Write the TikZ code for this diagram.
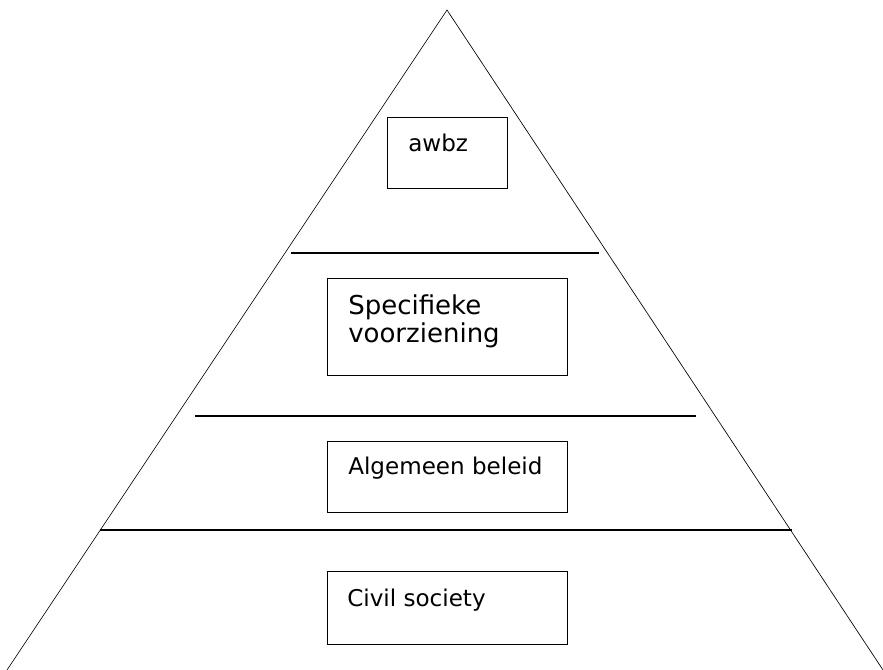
\documentclass[tikz,border=0pt]{standalone}
\usepackage{fontspec}
\setmainfont{DejaVu Sans}
\usetikzlibrary{positioning}
\tikzset{
    x=0.75pt, y=-0.75pt, % one unit is one pixel of the picture, y downwards
    side/.style={draw, line width=0.5pt}, % the two sides of the pyramid
    layer/.style={draw, line width=0.9pt}, % the lines between the layers
    box/.style={draw, line width=0.75pt, rectangle, minimum width=180pt, inner sep=0pt}, % sets the properties of each box
    label/.style={anchor=base west, inner sep=0pt, align=left, font=\fontsize{17.3}{21}\selectfont}, % the text in a box
}
\begin{document}
\begin{tikzpicture}
            \useasboundingbox (0,0) rectangle (883,670);
            \coordinate (top) at (447,10);
            \coordinate (left) at (7,670);
            \coordinate (right) at (883,670);
            \draw[side] (left) -- (top) -- (right);

            \draw[layer] (291,253) -- (599,253);
            \draw[layer] (195,416) -- (696,416);
            \draw[layer] (100,530) -- (792,530);

            \node[box, minimum width=90pt, minimum height=53.25pt] (awbz) at (447,153.5) {};
            \node[box, minimum height=72.75pt] (spec) at (447,327.5) {};
            \node[box, minimum height=53.25pt] (alg) at (447,477.5) {};
            \node[box, minimum height=54pt] (civil) at (447,608) {};

            % the base of a two-line label is its last line
            \node[label] (awbztext) at (408,152) {awbz};
            \node[label, font=\fontsize{19.5}{21}\selectfont] (spectext) at (348,343) {Specifieke\\voorziening};
            \node[label] (algtext) at (348,475) {Algemeen beleid};
            \node[label] (civiltext) at (347,607) {Civil society};
        \end{tikzpicture}
\end{document}
